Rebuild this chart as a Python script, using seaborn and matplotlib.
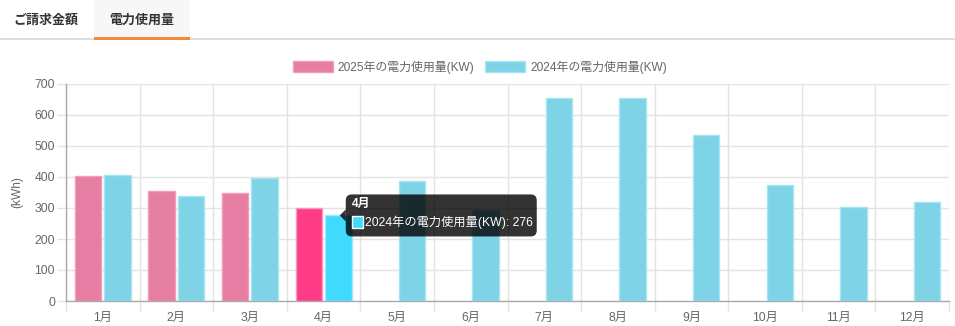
import numpy as np
import pandas as pd
import seaborn as sns
import matplotlib.pyplot as plt
from matplotlib.patches import Rectangle, Polygon, FancyBboxPatch
from matplotlib.transforms import IdentityTransform

months = ["1月", "2月", "3月", "4月", "5月", "6月", "7月", "8月", "9月", "10月", "11月", "12月"]
usage_2025 = [403, 355, 348, 300]
usage_2024 = [406, 339, 397, 276, 387, 294, 655, 655, 535, 373, 303, 318]
series_2025 = "2025年の電力使用量(KW)"
series_2024 = "2024年の電力使用量(KW)"
tabs = ["ご請求金額", "電力使用量"]
y_ticks = [0, 100, 200, 300, 400, 500, 600, 700]
hover_month = "4月"

colors = {series_2025: "#e57ea2", series_2024: "#7fd3e7"}
edges = {series_2025: "#f39dbb", series_2024: "#a6e6f4"}
hover_colors = {series_2025: "#ff3d86", series_2024: "#40daff"}

rows = [(m, series_2025, v) for m, v in zip(months, usage_2025)]
rows += [(m, series_2024, v) for m, v in zip(months, usage_2024)]
df = pd.DataFrame(rows, columns=["month", "series", "kwh"])

sns.set_theme(style="white")
plt.rcParams["font.family"] = ["Liberation Sans", "Noto Sans CJK JP", "DejaVu Sans"]

W, H = 955, 326
fig = plt.figure(figsize=(W / 100, H / 100), dpi=100)
fig.patch.set_facecolor("white")

# plot area in pixel terms (left, top, right, bottom)
L, T, R, B = 66, 84, 949, 301
ax = fig.add_axes([L / W, 1 - B / H, (R - L) / W, (B - T) / H])

hue_order = [series_2025, series_2024]
sns.barplot(data=df, x="month", y="kwh", hue="series", hue_order=hue_order,
            order=months, palette=colors, saturation=1, width=0.8, gap=0.1,
            errorbar=None, legend=False, ax=ax, zorder=3)

for cont, name in zip(ax.containers, hue_order):
    for bar in cont:
        bar.set_edgecolor(edges[name])
        bar.set_linewidth(1.0)

# highlighted (hovered) month
hi = months.index(hover_month)
for cont, name in zip(ax.containers, hue_order):
    cont[hi].set_facecolor(hover_colors[name])

ax.set_xlim(-0.5, len(months) - 0.5)
ax.set_ylim(0, 700)
ax.set_yticks(y_ticks)
ax.set_yticklabels([str(v) for v in y_ticks])
ax.set_xticks(range(len(months)))
ax.set_xticklabels(months)
ax.set_xticks(np.arange(-0.5, len(months), 1.0), minor=True)
ax.set_xlabel("")
ax.set_ylabel("(kWh)", color="#666666", fontsize=8.6, labelpad=8)

grid_c = "#e3e3e3"
axis_c = "#aaaaaa"
ax.grid(False)
ax.yaxis.grid(True, color=grid_c, linewidth=1.0, zorder=0)
ax.xaxis.grid(True, which="minor", color=grid_c, linewidth=1.0, zorder=0)
ax.set_axisbelow(True)
for side in ["top", "right"]:
    ax.spines[side].set_visible(False)
ax.spines["left"].set_color(axis_c)
ax.spines["bottom"].set_color(axis_c)
ax.spines["left"].set_linewidth(1.0)
ax.spines["bottom"].set_linewidth(1.0)

ax.tick_params(axis="y", which="major", length=6.5, width=1.0, color=grid_c,
               pad=1.5, labelsize=8.8, labelcolor="#666666", left=True)
ax.tick_params(axis="x", which="major", length=0, pad=8,
               labelsize=8.8, labelcolor="#666666")
ax.tick_params(axis="x", which="minor", length=7.2, width=1.0, color=grid_c,
               bottom=True)

# legend
handles = [Rectangle((0, 0), 1, 1, facecolor=colors[n], edgecolor=edges[n], linewidth=1.0)
           for n in hue_order]
leg = fig.legend(handles, hue_order, loc="center", bbox_to_anchor=(480 / W, 1 - 67 / H),
                 ncol=2, frameon=False, fontsize=8.6, handlelength=3.33, handleheight=1.0,
                 handletextpad=0.45, columnspacing=0.9, borderpad=0, borderaxespad=0)
for t in leg.get_texts():
    t.set_color("#666666")

# tab bar
def px(x, y):
    return x, H - y

ident = IdentityTransform()
fig.add_artist(Rectangle(px(94, 37), 96, 37, transform=ident, facecolor="#f7f7f7",
                         edgecolor="none", zorder=1))
fig.add_artist(Rectangle(px(0, 40), W, 2, transform=ident, facecolor="#dcdee0",
                         edgecolor="none", zorder=2))
fig.add_artist(Rectangle(px(94, 39.5), 96, 2.5, transform=ident, facecolor="#f5883a",
                         edgecolor="none", zorder=3))
fig.text(46 / W, 1 - 19.5 / H, tabs[0], ha="center", va="center", fontsize=9.4,
         fontweight="bold", color="#333333", family=["Noto Sans CJK JP"])
fig.text(142 / W, 1 - 19.5 / H, tabs[1], ha="center", va="center", fontsize=9.4,
         fontweight="bold", color="#333333", family=["Noto Sans CJK JP"])

# tooltip anchored at the hovered 2024 bar
bar = ax.containers[1][hi]
value = usage_2024[hi]
axp, ayp = ax.transData.transform((bar.get_x() + bar.get_width() / 2, value))
tip_x = axp + 1.5
box_l, box_r = tip_x + 6, tip_x + 197
box_b, box_t = ayp - 21, ayp + 21
tip_bg = (0, 0, 0, 0.8)
fig.add_artist(FancyBboxPatch((box_l, box_b), box_r - box_l, box_t - box_b,
                              boxstyle="round,pad=0,rounding_size=6", transform=ident,
                              facecolor=tip_bg, edgecolor="none", zorder=10))
fig.add_artist(Polygon([(tip_x, ayp), (box_l, ayp + 6), (box_l, ayp - 6)], closed=True,
                       transform=ident, facecolor=tip_bg, edgecolor="none", zorder=10))
fig.text(box_l + 6, ayp + 11, hover_month, transform=ident, ha="left", va="center",
         fontsize=8.6, fontweight="bold", color="white", zorder=11,
         family=["Liberation Sans", "Noto Sans CJK JP"])
fig.add_artist(Rectangle((box_l + 6, ayp - 13), 11, 12, transform=ident,
                         facecolor=hover_colors[series_2024], edgecolor="white",
                         linewidth=1.0, zorder=11))
fig.text(box_l + 19, ayp - 7, f"{series_2024}: {value}", transform=ident, ha="left",
         va="center", fontsize=8.8, color="white", zorder=11,
         family=["Liberation Sans", "Noto Sans CJK JP"])

fig.savefig("out.png", dpi=100, facecolor="white")
